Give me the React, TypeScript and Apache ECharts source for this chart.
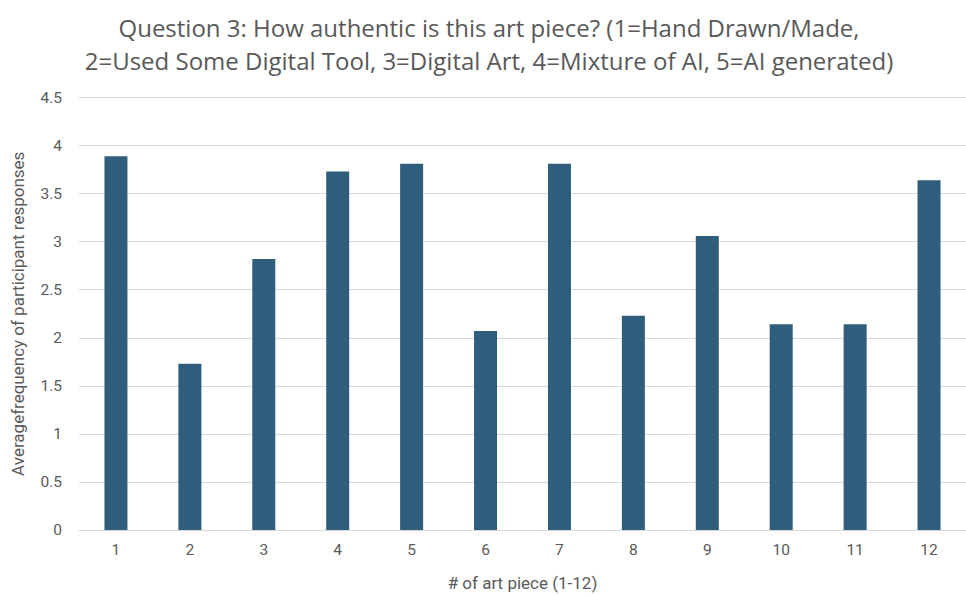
import React, { useEffect, useRef } from "react";
import * as echarts from "echarts";

const pieces = ["1", "2", "3", "4", "5", "6", "7", "8", "9", "10", "11", "12"];
const avgResponse = [3.89, 1.73, 2.82, 3.73, 3.81, 2.07, 3.81, 2.23, 3.06, 2.14, 2.14, 3.64];

const titleLines = [
  "Question 3: How authentic is this art piece? (1=Hand Drawn/Made,",
  "2=Used Some Digital Tool, 3=Digital Art, 4=Mixture of AI, 5=AI generated)",
];
const xName = "# of art piece (1-12)";
const yName = "Averagefrequency of participant responses";

const gray = "#595959";
const font = "Roboto, 'Liberation Sans', sans-serif";

export default function App() {
  const ref = useRef<HTMLDivElement>(null);

  useEffect(() => {
    document.body.style.margin = "0";
    document.body.style.overflow = "hidden";
    const chart = echarts.init(ref.current!, null, { renderer: "svg" });
    chart.setOption({
      animation: false,
      backgroundColor: "#ffffff",
      title: {
        text: titleLines.join("\n"),
        left: 484,
        textAlign: "center",
        top: 6,
        textStyle: {
          color: gray,
          fontFamily: "'Open Sans', sans-serif",
          fontWeight: "normal",
          fontSize: 24,
          lineHeight: 33,
        },
      },
      grid: { left: 79, right: -13, top: 97.5, bottom: 66, containLabel: false },
      xAxis: {
        type: "category",
        data: pieces,
        name: xName,
        nameLocation: "middle",
        nameGap: 44,
        nameTextStyle: { color: gray, fontSize: 17, fontFamily: font },
        axisLine: { lineStyle: { color: "#d9d9d9", width: 1 } },
        axisTick: { show: false },
        axisLabel: { color: gray, fontSize: 15.5, fontFamily: font, margin: 12 },
      },
      yAxis: {
        type: "value",
        min: 0,
        max: 4.5,
        interval: 0.5,
        name: yName,
        nameLocation: "middle",
        nameGap: 53,
        nameTextStyle: { color: gray, fontSize: 17, fontFamily: font },
        axisLine: { show: false },
        axisTick: { show: false },
        axisLabel: { color: gray, fontSize: 15.5, fontFamily: font, margin: 17 },
        splitLine: { lineStyle: { color: "#d9d9d9", width: 1 } },
      },
      series: [
        {
          type: "bar",
          data: avgResponse,
          barWidth: 23,
          itemStyle: { color: "#2e5e7c" },
        },
      ],
    });
    return () => chart.dispose();
  }, []);

  return (
    <div
      ref={ref}
      style={{ position: "fixed", left: 0, top: 0, width: 966, height: 596 }}
    />
  );
}
